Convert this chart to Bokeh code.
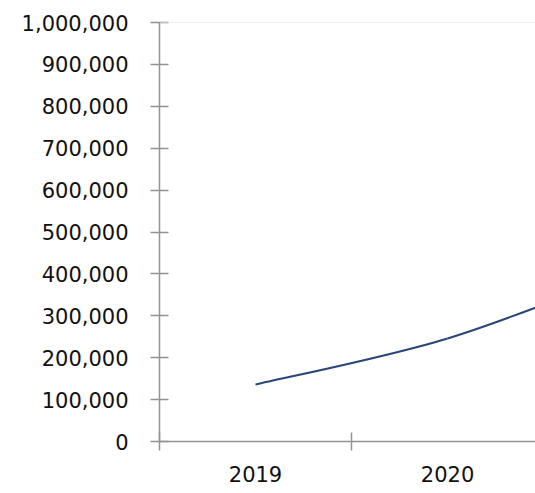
from bokeh.plotting import figure
from bokeh.models import FixedTicker, NumeralTickFormatter, Range1d, Span
from bokeh.embed import file_html
from bokeh.resources import INLINE

# Series data
years = ["2019", "2020", "2021"]
values = [136000, 246000, 415000]
y_ticks = [0, 100000, 200000, 300000, 400000, 500000, 600000, 700000, 800000, 900000, 1000000]

# Category positions: 2019 -> 1, 2020 -> 2, ...
xs = [i + 1 for i in range(len(years))]

p = figure(
    width=535, height=493,
    x_range=Range1d(0.5, 2.458), y_range=Range1d(0, 1000000),
    output_backend="svg", toolbar_location=None,
    min_border_left=159, min_border_right=0,
    min_border_top=22, min_border_bottom=52,
)
p.outline_line_color = None
p.xgrid.visible = False
p.ygrid.visible = False
p.background_fill_color = "white"
p.border_fill_color = "white"

# Smoothed line: cubic Bezier segments with Catmull-Rom style control points
n = len(xs)
x0, y0, x1, y1, cx0, cy0, cx1, cy1 = [], [], [], [], [], [], [], []
for i in range(n - 1):
    pa = (xs[max(i - 1, 0)], values[max(i - 1, 0)])
    pb = (xs[i], values[i])
    pc = (xs[i + 1], values[i + 1])
    pd = (xs[min(i + 2, n - 1)], values[min(i + 2, n - 1)])
    x0.append(pb[0]); y0.append(pb[1])
    x1.append(pc[0]); y1.append(pc[1])
    cx0.append(pb[0] + (pc[0] - pa[0]) / 6.0)
    cy0.append(pb[1] + (pc[1] - pa[1]) / 6.0)
    cx1.append(pc[0] - (pd[0] - pb[0]) / 6.0)
    cy1.append(pc[1] - (pd[1] - pb[1]) / 6.0)

p.bezier(x0=x0, y0=y0, x1=x1, y1=y1, cx0=cx0, cy0=cy0, cx1=cx1, cy1=cy1,
         line_color="#2A4679", line_width=2)

# faint top border of the plot area
p.add_layout(Span(location=1000000, dimension="width", line_color="#e6e6e6", line_width=1))

axis_color = "#939393"
label_color = "#111111"

# Y axis
yax = p.yaxis[0]
yax.ticker = FixedTicker(ticks=y_ticks)
yax.formatter = NumeralTickFormatter(format="0,0")
yax.axis_line_color = axis_color
yax.axis_line_width = 1.5
yax.major_tick_line_color = axis_color
yax.major_tick_line_width = 1.5
yax.major_tick_in = 9
yax.major_tick_out = 9
yax.minor_tick_line_color = None
yax.major_label_standoff = 22
yax.major_label_text_font = "DejaVu Sans"
yax.major_label_text_font_size = "21px"
yax.major_label_text_color = label_color

# X axis: labels at category centres, tick marks at category boundaries
xax = p.xaxis[0]
xax.ticker = FixedTicker(ticks=xs, minor_ticks=[x - 0.5 for x in xs])
xax.major_label_overrides = {x: y for x, y in zip(xs, years)}
xax.axis_line_color = axis_color
xax.axis_line_width = 1.5
xax.major_tick_line_color = None
xax.major_tick_in = 0
xax.major_tick_out = 9
xax.minor_tick_line_color = axis_color
xax.minor_tick_line_width = 1.5
xax.minor_tick_in = 9
xax.minor_tick_out = 9
xax.major_label_standoff = 15
xax.major_label_text_font = "DejaVu Sans"
xax.major_label_text_font_size = "21px"
xax.major_label_text_color = label_color

open("out.html", "w").write(file_html(p, INLINE))
